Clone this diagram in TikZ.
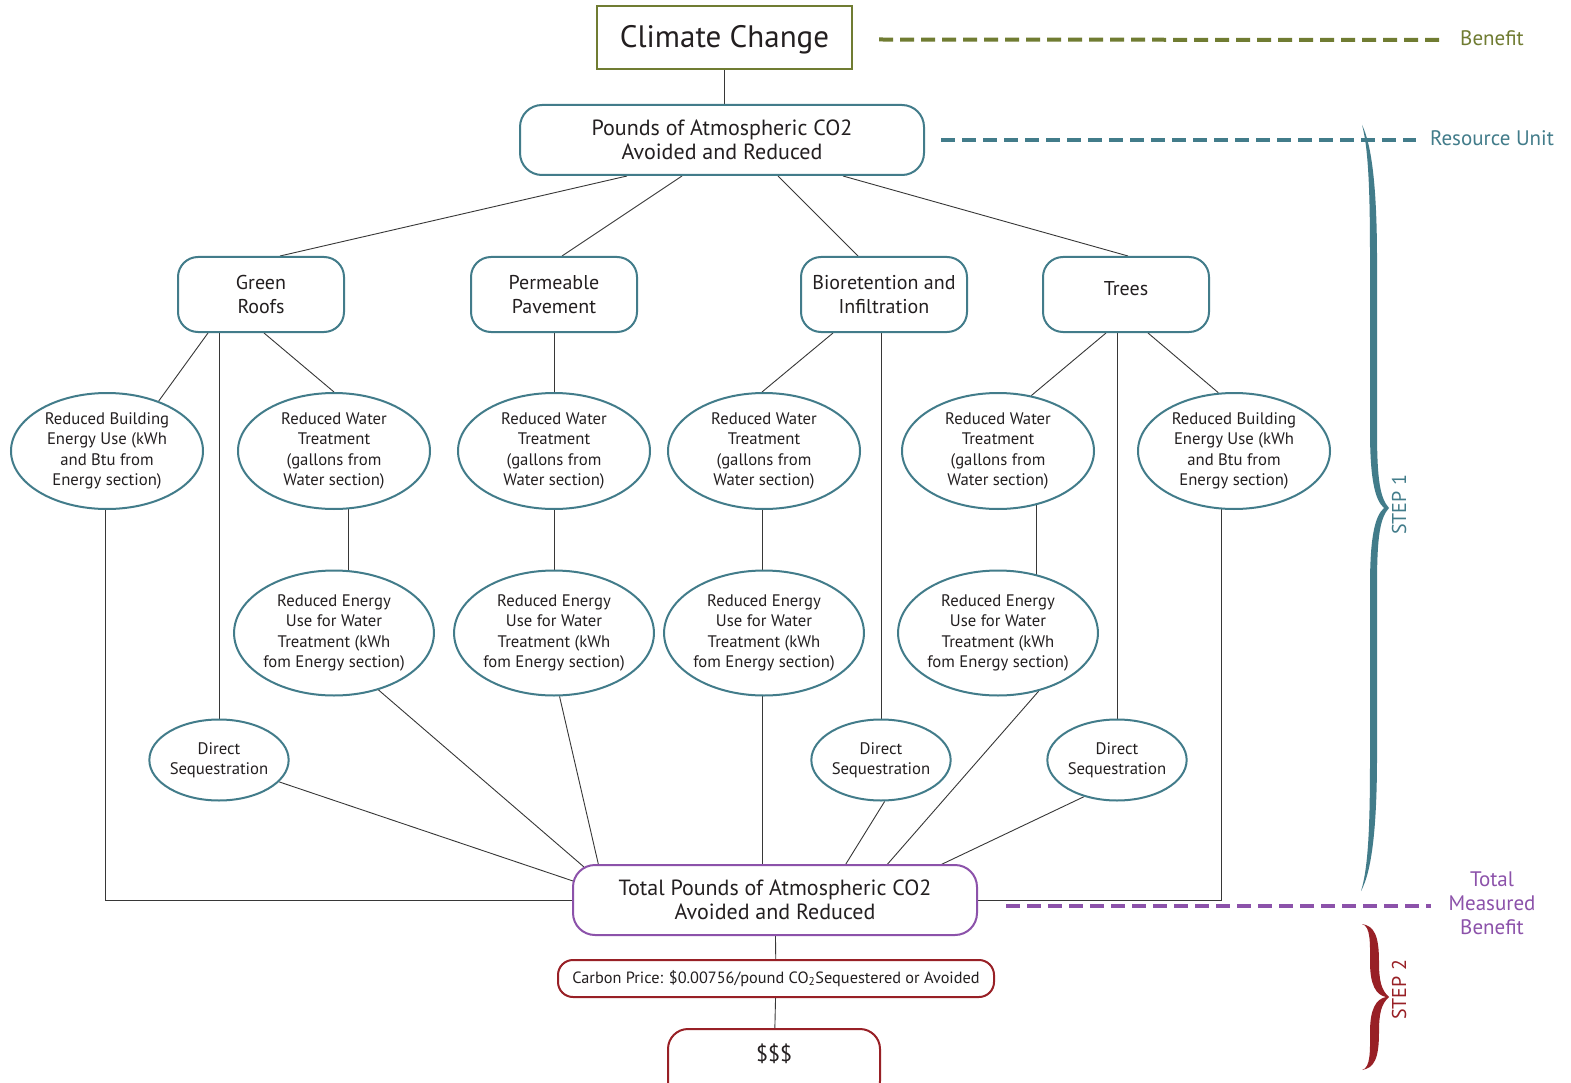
\documentclass[tikz,border=0pt]{standalone}
\usepackage{fontspec}
\setmainfont{PT Sans}
\usetikzlibrary{shapes.geometric,backgrounds}
\definecolor{cOlive}{RGB}{112,124,50}
\definecolor{cTeal}{RGB}{66,124,138}
\definecolor{cPurp}{RGB}{140,82,170}
\definecolor{cRed}{RGB}{152,32,38}
\definecolor{cTxt}{RGB}{35,31,32}
\definecolor{cLine}{RGB}{55,55,55}
\tikzset{
  conn/.style={draw=cLine, line width=0.9pt},
  rbox/.style={rectangle, draw=cTeal, line width=2pt, rounded corners=20pt, fill=white, inner sep=0pt, align=center, text=cTxt, minimum width=166pt, minimum height=75pt, font=\fontsize{20}{24}\selectfont},
  ell/.style={ellipse, draw=cTeal, line width=2pt, fill=white, inner sep=0pt, align=center, text=cTxt, minimum width=192pt, minimum height=116pt, font=\fontsize{16.7}{20.3}\selectfont},
  ell2/.style={ell, minimum height=125pt},
  dsell/.style={ell, minimum width=135pt, minimum height=81pt},
  lbl/.style={inner sep=0pt, align=center, font=\fontsize{21}{24}\selectfont},
  steplbl/.style={inner sep=0pt, rotate=90, font=\fontsize{20}{24}\selectfont},
  ldash/.style={line width=4pt, dash pattern=on 14pt off 7pt},
}
\begin{document}
\begin{tikzpicture}[x=1pt,y=-1pt]
\useasboundingbox (0,0) rectangle (1571,1083);
% top
\node[draw=cOlive, line width=2pt, fill=white, minimum width=255pt, minimum height=63pt, inner sep=0pt, text=cTxt, text height=27pt, text depth=6pt, font=\fontsize{31}{36}\selectfont] (CC) at (724.5,37.5) {Climate Change};
\node[rbox, minimum width=404pt, minimum height=70pt, rounded corners=22pt, font=\fontsize{22}{24}\selectfont] (P) at (722,140) {Pounds of Atmospheric CO2\\Avoided and Reduced};
% practices
\node[rbox] (GR) at (261,294.5) {Green\\Roofs};
\node[rbox] (PP) at (554,294.5) {Permeable\\Pavement};
\node[rbox] (BI) at (884,294.5) {Bioretention and\\Infiltration};
\node[rbox, text height=15pt, text depth=12pt] (TR) at (1126,294.5) {Trees};
% row 1
\node[ell] (RBEL) at (107,451) {Reduced Building\\Energy Use (kWh\\and Btu from\\Energy section)};
\node[ell] (RWT1) at (334,451) {Reduced Water\\Treatment\\(gallons from\\Water section)};
\node[ell] (RWT2) at (554,451) {Reduced Water\\Treatment\\(gallons from\\Water section)};
\node[ell] (RWT3) at (764,451) {Reduced Water\\Treatment\\(gallons from\\Water section)};
\node[ell] (RWT4) at (998,451) {Reduced Water\\Treatment\\(gallons from\\Water section)};
\node[ell] (RBER) at (1234,451) {Reduced Building\\Energy Use (kWh\\and Btu from\\Energy section)};
% row 2
\node[ell2] (REU1) at (334,633) {Reduced Energy\\Use for Water\\Treatment (kWh\\fom Energy section)};
\node[ell2] (REU2) at (554,633) {Reduced Energy\\Use for Water\\Treatment (kWh\\fom Energy section)};
\node[ell2] (REU3) at (764,633) {Reduced Energy\\Use for Water\\Treatment (kWh\\fom Energy section)};
\node[ell2] (REU4) at (998,633) {Reduced Energy\\Use for Water\\Treatment (kWh\\fom Energy section)};
% direct sequestration
\node[dsell] (DS1) at (219,760) {Direct\\Sequestration};
\node[dsell] (DS2) at (881,760) {Direct\\Sequestration};
\node[dsell] (DS3) at (1117,760) {Direct\\Sequestration};
% bottom
\node[rbox, draw=cPurp, minimum width=404pt, minimum height=70pt, rounded corners=22pt, font=\fontsize{22}{24}\selectfont] (TOT) at (775,900) {Total Pounds of Atmospheric CO2\\Avoided and Reduced};
\node[rbox, draw=cRed, minimum width=436pt, minimum height=37pt, rounded corners=15pt, font=\fontsize{16.3}{19}\selectfont] (CP) at (776,978.5) {Carbon Price: \$0.00756/pound CO\textsubscript{2}Sequestered or Avoided};
\node[rbox, draw=cRed, anchor=north, minimum width=212pt, minimum height=72pt, text height=32pt, text depth=40pt, font=\fontsize{22}{24}\selectfont] (DL) at (774,1028) {\$\$\$};
% labels
\node[lbl, text=cOlive] (BEN) at (1492,38) {Benefit};
\node[lbl, text=cTeal] (RU) at (1492,138) {Resource Unit};
\node[lbl, text=cPurp] (TMB) at (1492,903) {Total\\Measured\\Benefit};
\node[steplbl, text=cTeal] (S1) at (1399,505) {STEP 1};
\node[steplbl, text=cRed] (S2) at (1399,990) {STEP 2};
% dashed level lines
\draw[ldash, cOlive] ([shift={(26,2)}]CC.east) -- ([shift={(-19,2)}]BEN.west);
\draw[ldash, cTeal] ([shift={(16,0)}]P.east) -- ([shift={(-14,2)}]RU.west);
\draw[ldash, cPurp] ([shift={(28,6)}]TOT.east) -- ([shift={(-17,3)}]TMB.west);
% braces
\fill[cTeal] (1362,125) .. controls (1369,150) and (1370,200) .. (1370,260) -- (1370,430) .. controls (1370,480) and (1375,500) .. (1384,508) .. controls (1375,516) and (1370,536) .. (1370,586) -- (1370,756) .. controls (1370,816) and (1369,866) .. (1361,891) .. controls (1372,871) and (1377,826) .. (1377,756) -- (1377,586) .. controls (1377,536) and (1380,518) .. (1389,508) .. controls (1380,498) and (1377,480) .. (1377,430) -- (1377,260) .. controls (1377,190) and (1372,145) .. (1362,125) -- cycle;
\fill[cRed] (1362,924) .. controls (1371,926) and (1370,945) .. (1370,962) .. controls (1370,985) and (1376,995) .. (1386,997) .. controls (1376,999) and (1370,1009) .. (1370,1032) .. controls (1370,1049) and (1371,1068) .. (1362,1070) .. controls (1374,1068) and (1379,1059) .. (1379,1032) .. controls (1379,1014) and (1381,1004) .. (1389,997) .. controls (1381,990) and (1379,980) .. (1379,962) .. controls (1379,935) and (1374,926) .. (1362,924) -- cycle;
% connectors
\begin{scope}[on background layer]
\fill[white] (0,0) rectangle (1571,1083);
\draw[conn] (CC.south) -- (CC.south |- P.north);
\draw[conn] ([xshift=-95pt]P.south) -- ([xshift=19pt]GR.north);
\draw[conn] ([xshift=-40pt]P.south) -- ([xshift=8pt]PP.north);
\draw[conn] ([xshift=56pt]P.south) -- ([xshift=-26pt]BI.north);
\draw[conn] ([xshift=121pt]P.south) -- ([xshift=2pt]TR.north);
\draw[conn] ([xshift=-53pt]GR.south) -- (RBEL.44);
\draw[conn] (DS1.north |- GR.south) -- (DS1.north);
\draw[conn] ([xshift=3pt]GR.south) -- (RWT1.north);
\draw[conn] ([shift={(14,0)}]RWT1.center) -- ([shift={(14,0)}]REU1.center);
\draw[conn] ([xshift=-2pt]RBEL.center) |- (TOT.west);
\draw[conn] (PP.south) -- (RWT2.north);
\draw[conn] (RWT2.center) -- (REU2.center);
\draw[conn] ([xshift=-51pt]BI.south) -- ([xshift=-2pt]RWT3.north);
\draw[conn] (DS2.north |- BI.south) -- (DS2.north);
\draw[conn] ([xshift=-2pt]RWT3.center) -- ([xshift=-2pt]REU3.center);
\draw[conn] ([xshift=-20pt]TR.south) -- (RWT4.59);
\draw[conn] (DS3.north |- TR.south) -- (DS3.north);
\draw[conn] ([xshift=22pt]TR.south) -- (RBER.105);
\draw[conn] ([shift={(38,0)}]RWT4.center) -- ([shift={(38,0)}]REU4.center);
\draw[conn] ([xshift=-13pt]RBER.center) |- (TOT.east);
\draw[conn] (DS1.-20) -- ([shift={(-202,-19)}]TOT.center);
\draw[conn] (REU1.-52) -- ([shift={(-191,-33)}]TOT.center);
\draw[conn] (REU2.-85) -- ([shift={(-176,-33)}]TOT.center);
\draw[conn] ([xshift=-2pt]REU3.center) -- ([shift={(-13,0)}]TOT.center);
\draw[conn] (DS2.-85) -- ([shift={(69,-33)}]TOT.center);
\draw[conn] (REU4.-55) -- ([shift={(110,-33)}]TOT.center);
\draw[conn] (DS3.228) -- ([shift={(161,-33)}]TOT.center);
\draw[conn] (TOT.center) -- (CP.center);
\draw[conn] (CP.center) -- (DL.center);
\end{scope}
\end{tikzpicture}
\end{document}
